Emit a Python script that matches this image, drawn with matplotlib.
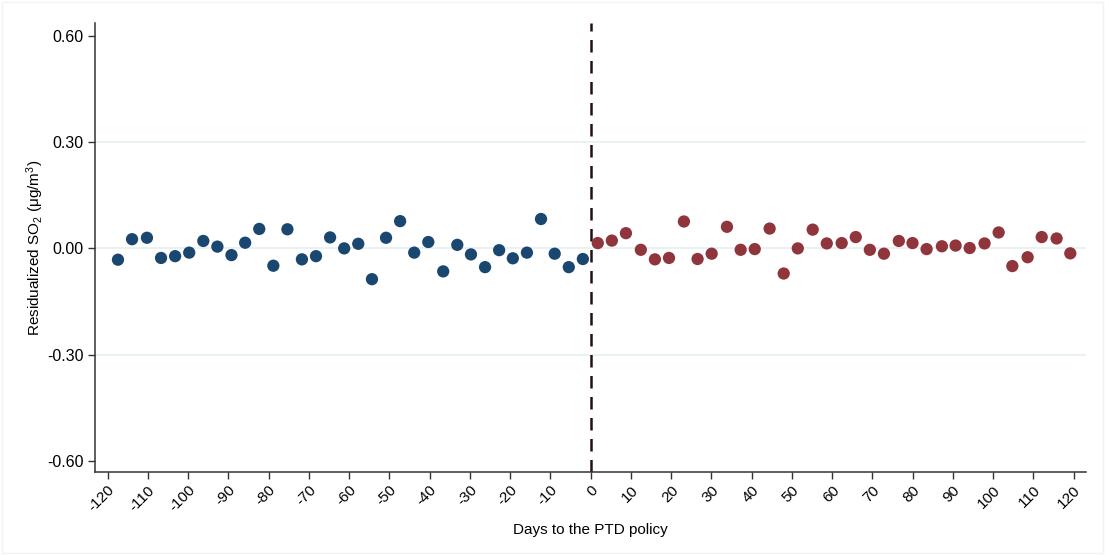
import matplotlib
matplotlib.use("Agg")
import matplotlib.pyplot as plt
from matplotlib.patches import Rectangle

plt.rcParams['font.family'] = ['Liberation Sans', 'DejaVu Sans']
plt.rcParams['mathtext.fontset'] = 'custom'
plt.rcParams['mathtext.rm'] = 'Liberation Sans'
plt.rcParams['mathtext.it'] = 'Liberation Sans'

# days before the policy (binned means) and residualized SO2
days_pre = [-117.4, -113.9, -110.2, -106.7, -103.2, -99.7, -96.2, -92.7, -89.2, -85.8,
            -82.3, -78.8, -75.3, -71.7, -68.2, -64.7, -61.2, -57.7, -54.3, -50.8,
            -47.3, -43.8, -40.3, -36.6, -33.1, -29.7, -26.2, -22.7, -19.3, -15.8,
            -12.3, -8.9, -5.4, -1.9]
so2_pre = [-0.032, 0.026, 0.030, -0.027, -0.022, -0.012, 0.021, 0.005, -0.019, 0.016,
           0.055, -0.049, 0.054, -0.031, -0.022, 0.031, 0.000, 0.013, -0.087, 0.030,
           0.077, -0.012, 0.018, -0.065, 0.010, -0.017, -0.053, -0.005, -0.028, -0.012,
           0.083, -0.015, -0.053, -0.030]

# days after the policy
days_post = [1.8, 5.3, 8.8, 12.5, 16.0, 19.5, 23.2, 26.6, 30.1, 33.9,
             37.3, 40.8, 44.5, 48.0, 51.5, 55.2, 58.7, 62.4, 65.9, 69.4,
             72.9, 76.6, 80.0, 83.5, 87.3, 90.7, 94.2, 97.9, 101.4, 104.8,
             108.6, 112.1, 115.8, 119.2]
so2_post = [0.015, 0.022, 0.043, -0.004, -0.031, -0.027, 0.076, -0.030, -0.015, 0.061,
            -0.004, -0.002, 0.056, -0.071, 0.000, 0.053, 0.014, 0.015, 0.032, -0.004,
            -0.015, 0.021, 0.015, -0.002, 0.006, 0.008, 0.001, 0.014, 0.045, -0.050,
            -0.025, 0.032, 0.028, -0.014]

xticks = list(range(-120, 121, 10))
yticks = [-0.6, -0.3, 0.0, 0.3, 0.6]

fig = plt.figure(figsize=(11.05, 5.55), dpi=100)
ax = fig.add_axes([0.086, 0.1495, 0.8968, 0.8091])

# light grid lines at the inner y ticks
for yv in [-0.3, 0.0, 0.3]:
    ax.axhline(yv, color='#e6eff1', lw=1.2, zorder=0)

ax.scatter(days_pre, so2_pre, s=78, color='#1a476f', edgecolors='none', zorder=3)
ax.scatter(days_post, so2_post, s=78, color='#90353b', edgecolors='none', zorder=3)

ax.axvline(0, color='#241014', lw=1.8, linestyle=(0, (5.0, 3.4)), zorder=2)

ax.set_xlim(-123.1, 123.1)
ax.set_ylim(-0.632, 0.637)

ax.set_xticks(xticks)
ax.set_xticklabels([str(v) for v in xticks], rotation=45, ha='right',
                   rotation_mode='anchor', fontsize=11)
ax.set_yticks(yticks)
ax.set_yticklabels(['%.2f' % v for v in yticks], fontsize=11.5)
ax.tick_params(axis='both', direction='out', length=5, width=1, color='#333333', pad=3)

for side in ['top', 'right']:
    ax.spines[side].set_visible(False)
for side in ['left', 'bottom']:
    ax.spines[side].set_color('#333333')
    ax.spines[side].set_linewidth(1.1)

ax.set_xlabel('Days to the PTD policy', fontsize=11, labelpad=6)
ax.set_ylabel(r'Residualized SO$_{2}$ ($\mu$g/m$^{3}$)', fontsize=11, labelpad=1)

# faint outer frame like the graph region
fig.patches.append(Rectangle((0.002, 0.004), 0.996, 0.992, transform=fig.transFigure,
                             fill=False, edgecolor='#f2f2f2', lw=1))

fig.savefig('out.png', dpi=100)
